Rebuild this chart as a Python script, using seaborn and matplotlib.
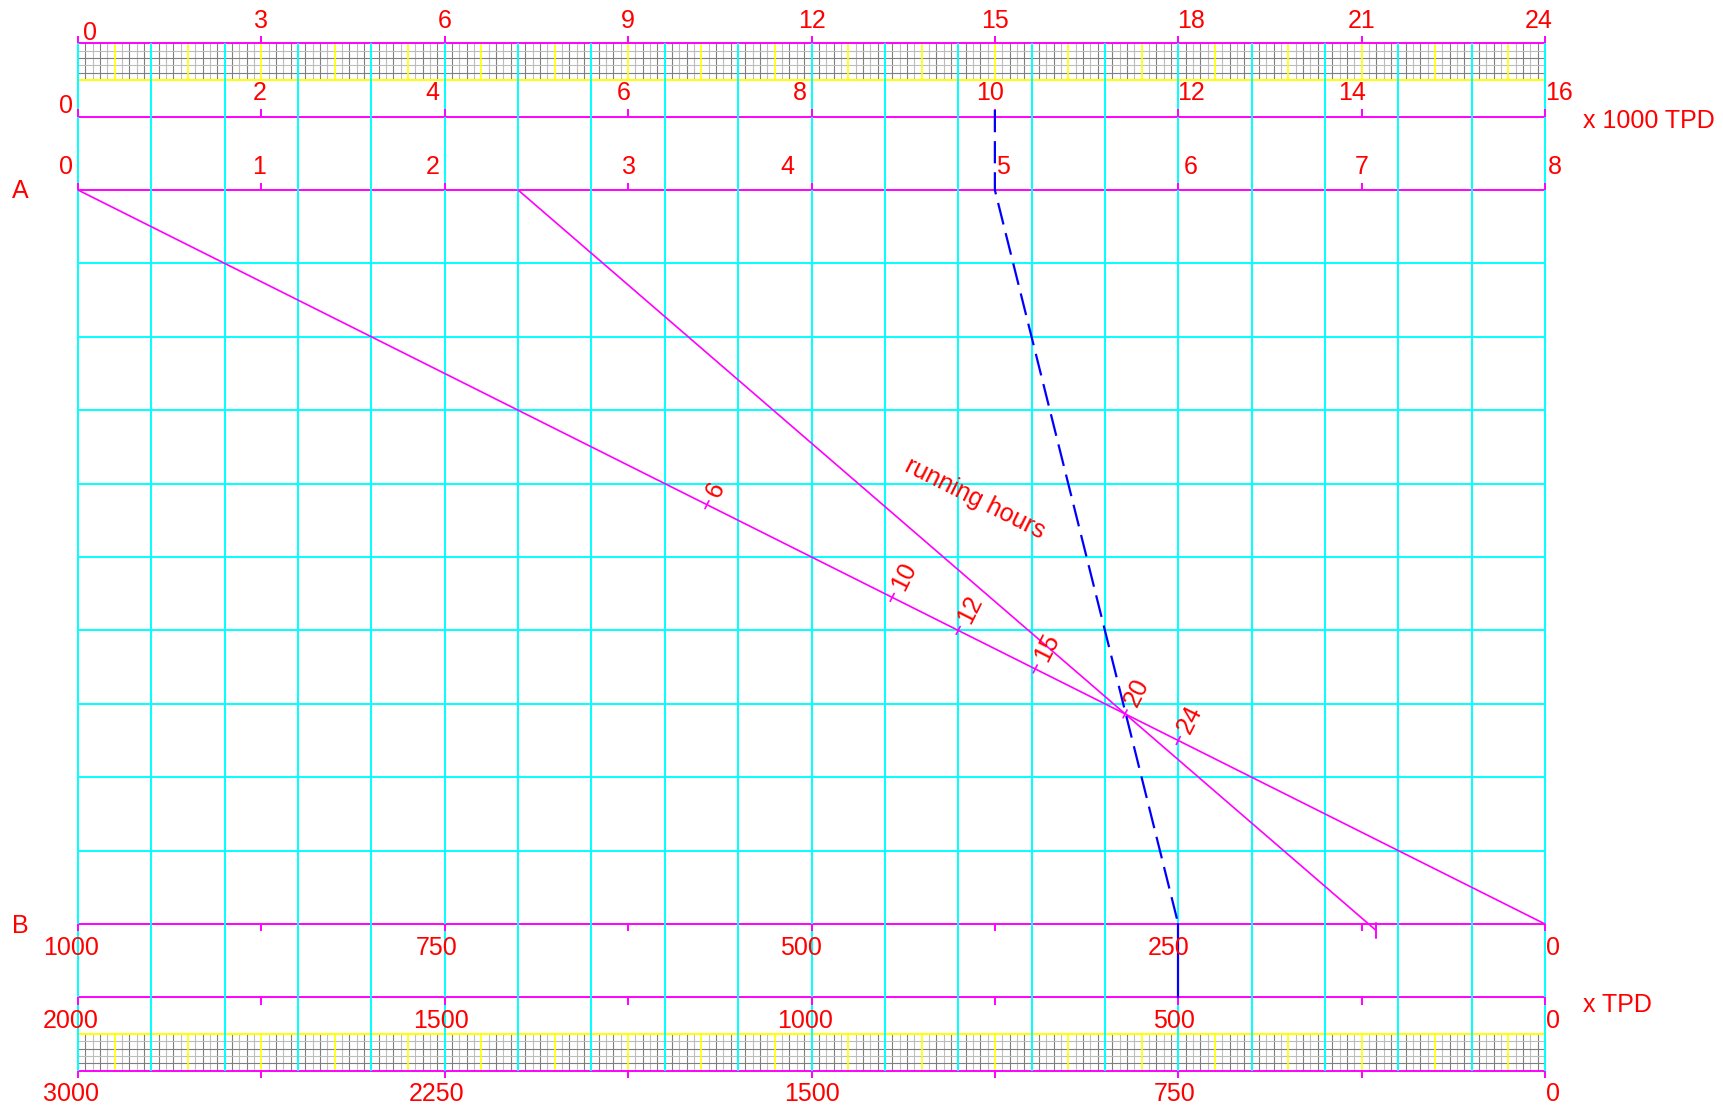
import seaborn as sns
import matplotlib.pyplot as plt
import pandas as pd
import numpy as np

# ---------------- data ----------------
hours_labels = [0, 3, 6, 9, 12, 15, 18, 21, 24]
ktpd_labels = [0, 2, 4, 6, 8, 10, 12, 14, 16]
a_labels = [0, 1, 2, 3, 4, 5, 6, 7, 8]
b_labels = [1000, 750, 500, 250, 0]
tpd_labels = [2000, 1500, 1000, 500, 0]
tpd3_labels = [3000, 2250, 1500, 750, 0]

# running hours marks, read as A-scale values along the A(0) - B(0) line
run_hours = [6, 10, 12, 15, 20, 24]
run_a = [3.43, 4.44, 4.80, 5.22, 5.71, 6.00]

# second line: A = 2.4 down to B = 115
guide_a = 2.4
guide_b = 115

# worked example (blue): 10 x1000 TPD -> A 5 -> B 250 -> 500 TPD
ex_ktpd = 10
ex_a = 5
ex_b = 250
ex_tpd = 500

# ---------------- layout ----------------
W = 20                      # grid units across
UX, UY = 73.35, 73.4        # px per grid unit
X0, YA = 78, 190            # px of left edge and of line A
Y_H, Y_K, Y_A, Y_B, Y_T, Y_T3 = 12, 11, 10, 0, -1, -2

MAG = '#ff00ff'
CYAN = '#00ffff'
YEL = '#ffff00'
RED = '#ff0000'
BLUE = '#0000ff'
FS = 18


def pos(v, lo, hi):
    return (v - lo) / (hi - lo) * W


def ypx(p):
    return Y_A - (p - YA) / UY


sns.set_style('white')
plt.rcParams['font.family'] = ['Liberation Sans', 'DejaVu Sans']

fig = plt.figure(figsize=(17.23, 11.06), dpi=100)
ax = fig.add_axes([0, 0, 1, 1])
ax.set_xlim(-X0 / UX, (1723 - X0) / UX)
ax.set_ylim(ypx(1106), ypx(0))
ax.axis('off')

# fine bands (top and bottom)
for band_lo, band_hi in [(11.5, 12), (-2, -1.5)]:
    for k in range(1, W * 10):
        if k % 5 == 0:
            continue
        c = '#7f7f7f' if k % 2 else '#bdbdbd'
        ax.plot([k / 10, k / 10], [band_lo, band_hi], color=c, lw=0.8, zorder=1)
    for j in range(1, 5):
        c = '#7f7f7f' if j % 2 else '#bdbdbd'
        yy = band_lo + j / 10
        ax.plot([0, W], [yy, yy], color=c, lw=0.8, zorder=1)
    for k in range(1, W * 2, 2):
        ax.plot([k / 2, k / 2], [band_lo, band_hi], color=YEL, lw=1.2, zorder=1.5)
ax.hlines([11.5, -1.5], 0, W, color=YEL, lw=1.4, zorder=1.5)

# scale lines
ax.hlines([Y_H, Y_K, Y_A, Y_B, Y_T, Y_T3], 0, W, color=MAG, lw=1.4, zorder=2)

# cyan grid
ax.vlines(range(0, W + 1), -2, 12, color=CYAN, lw=1.4, zorder=2.5)
ax.hlines(range(1, 10), 0, W, color=CYAN, lw=1.4, zorder=2.5)

# scale ticks every 2.5 units
tick_x = np.linspace(0, W, 9)
for yy, d in [(Y_H, 0.1), (Y_K, 0.1), (Y_A, 0.1), (Y_B, -0.1), (Y_T, -0.1), (Y_T3, -0.1)]:
    ax.vlines(tick_x, yy, yy + d, color=MAG, lw=1.4, zorder=3)

# scale labels
rows = [
    (hours_labels, 0, 24, 27.5, ['left'] + ['center'] * 8,
     [5, 0, 0, 0, 0, 0, 13, 0, -6], {0: 40}),
    (ktpd_labels, 0, 16, 100.5, ['right'] + ['center'] * 7 + ['left'],
     [-5, -2, -12, -4, -12, -5, 13, -10, 0], {0: 113}),
    (a_labels, 0, 8, 174, ['right'] + ['center'] * 7 + ['left'],
     [-5, -2, -12, 1, -24, 8, 12, 0, 3], {}),
    (b_labels, 1000, 0, 955, ['center'] * 4 + ['left'], [-7, -8, -11, -10, 1], {}),
    (tpd_labels, 2000, 0, 1028, ['center'] * 4 + ['left'], [-7, -4, -6, -4, 1], {}),
    (tpd3_labels, 3000, 0, 1101, ['center'] * 4 + ['left'], [-7, -8, 0, -4, 1], {}),
]
for labels, lo, hi, base, has, dxs, ybase in rows:
    for i, (v, ha, dx) in enumerate(zip(labels, has, dxs)):
        ax.text(pos(v, lo, hi) + dx / UX, ypx(ybase.get(i, base)), str(v),
                color=RED, fontsize=FS, ha=ha, va='baseline', zorder=5)

ax.text(-58 / UX, ypx(198), 'A', color=RED, fontsize=FS, ha='center', va='baseline')
ax.text(-58 / UX, ypx(933), 'B', color=RED, fontsize=FS, ha='center', va='baseline')
ax.text((1583 - X0) / UX, ypx(128), 'x 1000 TPD', color=RED, fontsize=FS,
        ha='left', va='baseline')
ax.text((1583 - X0) / UX, ypx(1012), 'x TPD', color=RED, fontsize=FS,
        ha='left', va='baseline')

# main running-hours line A(0) -> B(0)
main = pd.DataFrame({'x': [pos(0, 0, 8), pos(0, 1000, 0)], 'y': [Y_A, Y_B]})
sns.lineplot(data=main, x='x', y='y', color=MAG, lw=1.2, sort=False,
             estimator=None, ax=ax, zorder=3)

# guide line A(2.4) -> B(115), slightly past the B line
gx_end = pos(guide_b, 1000, 0)
guide = pd.DataFrame({'x': [pos(guide_a, 0, 8), gx_end], 'y': [Y_A, Y_B - 0.09]})
sns.lineplot(data=guide, x='x', y='y', color=MAG, lw=1.2, sort=False,
             estimator=None, ax=ax, zorder=3)
ax.plot([gx_end, gx_end], [Y_B + 0.01, Y_B - 0.19], color=MAG, lw=1.4, zorder=3)

# running hours marks and labels
ang = np.degrees(np.arctan2(Y_B - Y_A, W))
perp = np.array([-np.sin(np.radians(ang)), np.cos(np.radians(ang))])
along = np.array([np.cos(np.radians(ang)), np.sin(np.radians(ang))])
rx = [pos(a, 0, 8) for a in run_a]
ry = np.interp(rx, [0, W], [Y_A, Y_B])
for h, x, y in zip(run_hours, rx, ry):
    p0 = np.array([x, y]) - 0.06 * perp
    p1 = np.array([x, y]) + 0.06 * perp
    ax.plot([p0[0], p1[0]], [p0[1], p1[1]], color=MAG, lw=1.2, zorder=3)
    t = np.array([x, y]) + 0.14 * perp + 0.11 * along
    ax.text(t[0], t[1], str(h), color=RED, fontsize=FS, rotation=ang + 90,
            rotation_mode='anchor', ha='left', va='baseline', zorder=5)

ax.text(12.23, 5.80, 'running hours', color=RED, fontsize=FS, rotation=ang,
        rotation_mode='anchor', ha='center', va='center', zorder=5)

# worked example in blue
ex_x_top = pos(ex_ktpd, 0, 16)
dash = pd.DataFrame({'x': [ex_x_top, pos(ex_a, 0, 8), pos(ex_b, 1000, 0)],
                     'y': [Y_K + 0.09, Y_A, Y_B]})
sns.lineplot(data=dash, x='x', y='y', color=BLUE, lw=1.6, sort=False,
             estimator=None, ax=ax, zorder=4, linestyle=(0, (10, 4)))
solid = pd.DataFrame({'x': [pos(ex_b, 1000, 0), pos(ex_tpd, 2000, 0)],
                      'y': [Y_B, Y_T]})
sns.lineplot(data=solid, x='x', y='y', color=BLUE, lw=1.6, sort=False,
             estimator=None, ax=ax, zorder=4)

fig.savefig('out.png', dpi=100)
